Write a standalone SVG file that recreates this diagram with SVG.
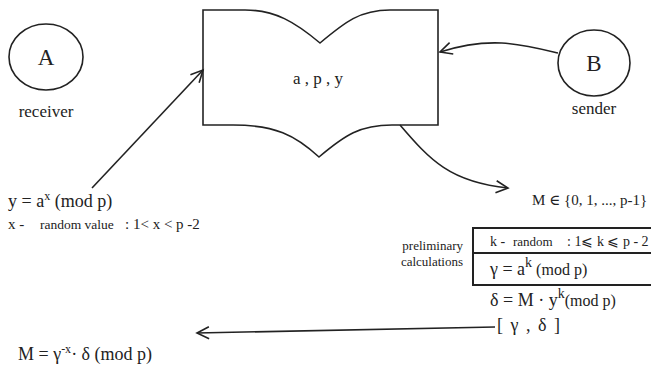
<svg xmlns="http://www.w3.org/2000/svg" width="651" height="365" viewBox="0 0 651 365">
<style>
text{font-family:'Liberation Serif','DejaVu Serif',serif;fill:#222}
.shape{fill:#fff;stroke:#222;stroke-width:1.6}
.conn{fill:none;stroke:#222;stroke-width:1.6}
.big{font-size:18px}
.mid{font-size:17px}
.sm{font-size:13px}
</style>
<defs>
<marker id="ah" markerUnits="userSpaceOnUse" markerWidth="16" markerHeight="14" refX="13" refY="7" orient="auto" viewBox="0 0 16 14">
<path d="M1,1 L13,7 L1,13" fill="none" stroke="#222" stroke-width="1.6"/>
</marker>
</defs>
<rect width="651" height="365" fill="#fff"/>
<g id="nodeA">
<ellipse class="shape" cx="46" cy="57" rx="37" ry="33"/>
<text x="46" y="65" text-anchor="middle" style="font-size:23px">A</text>
<text x="46" y="117" text-anchor="middle" class="mid">receiver</text>
</g>
<g id="nodeB">
<ellipse class="shape" cx="594" cy="63" rx="36" ry="33"/>
<text x="594" y="71" text-anchor="middle" style="font-size:23px">B</text>
<text x="594" y="114" text-anchor="middle" class="mid">sender</text>
</g>
<g id="nodeBook">
<path class="shape" d="M203,10 L245,10 C275,10 295,22 320,43 C345,22 360,10 390,10 L438,10 L438,125 L392,125 C360,125 345,135 319,157 C295,135 275,125 233,125 L203,125 Z"/>
<text x="318" y="84" text-anchor="middle" class="mid">a , p , y</text>
</g>
<g id="connectors">
<line class="conn" x1="92" y1="188" x2="203" y2="70" marker-end="url(#ah)"/>
<path class="conn" d="M558,53 C520,44 490,36 440,52" marker-end="url(#ah)"/>
<path class="conn" d="M400,125 C430,160 450,182 508,188" marker-end="url(#ah)"/>
<line class="conn" x1="495" y1="327" x2="197" y2="333" marker-end="url(#ah)"/>
</g>
<g id="recvFormula">
<text x="8" y="207" style="font-size:18px">y = a<tspan dy="-7" style="font-size:12px">x</tspan><tspan dy="7"> (mod p)</tspan></text>
<text x="8" y="229" style="font-size:15px">x -</text>
<text x="40" y="229" style="font-size:13.5px">random value</text>
<text x="125" y="229" style="font-size:15px">:  1&lt; x &lt; p -2</text>
</g>
<g id="message">
<text x="532" y="205" style="font-size:15px">M ∈ {0, 1, ..., p-1}</text>
</g>
<g id="prelim">
<text x="463" y="250" text-anchor="end" class="sm">preliminary</text>
<text x="463" y="266" text-anchor="end" class="sm">calculations</text>
<path d="M653,228 L473,228 L473,285 L653,285 M473,253 L653,253" fill="none" stroke="#222" stroke-width="2"/>
<text x="490" y="246" style="font-size:14px">k -</text>
<text x="513" y="246" style="font-size:13px">random</text>
<text x="567" y="246" style="font-size:14px">: 1⩽ k ⩽ p - 2</text>
<text x="490" y="275" class="big">γ  = a<tspan dy="-8" style="font-size:14px">k</tspan><tspan dy="8" style="font-size:16px"> (mod p)</tspan></text>
</g>
<g id="delta">
<text x="490" y="306" class="big">δ  = M · y<tspan dy="-8" style="font-size:14px">k</tspan><tspan dy="8" style="font-size:16px">(mod p)</tspan></text>
<text x="497" y="331" style="font-size:18px;letter-spacing:1.5px">[ γ , δ ]</text>
</g>
<g id="decrypt">
<text x="18" y="360" style="font-size:18px">M = γ<tspan dy="-7" style="font-size:12px">-x</tspan><tspan dy="7">· δ (mod p)</tspan></text>
</g>
</svg>
